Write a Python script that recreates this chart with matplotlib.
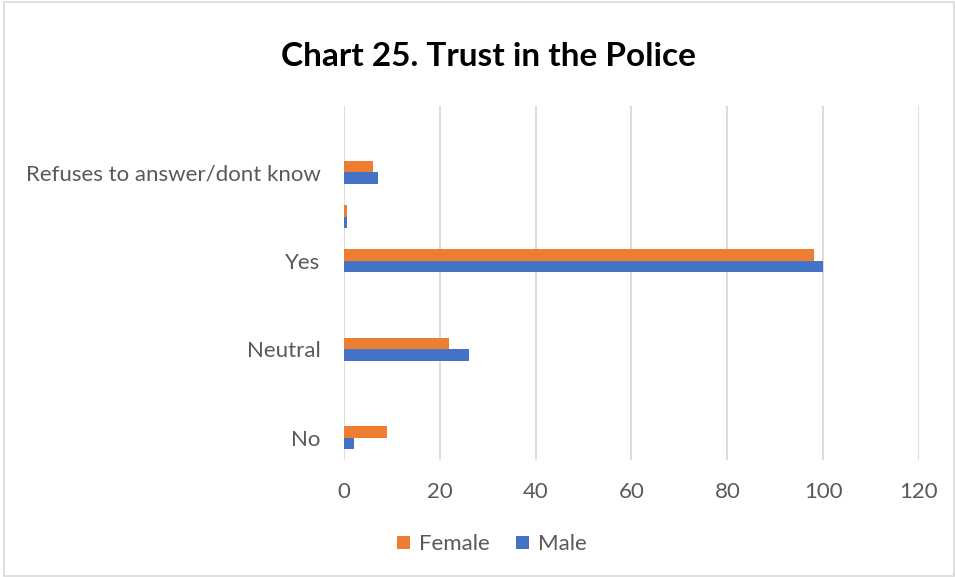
import matplotlib
matplotlib.use("Agg")
import matplotlib.pyplot as plt
import numpy as np
from matplotlib.patches import Rectangle

# Categories from bottom to top (blank rows are unlabeled categories)
categories = ["No", "", "Neutral", "", "Yes", "", "Refuses to answer/dont know", ""]
female = [9, 0, 22, 0, 98, 0.7, 6, 0]
male = [2, 0, 26, 0, 100, 0.7, 7, 0]
x_ticks = [0, 20, 40, 60, 80, 100, 120]

ORANGE = "#ED7D31"
BLUE = "#4472C4"
TEXT = "#595959"
GRID = "#D9D9D9"

plt.rcParams["font.family"] = ["Lato", "DejaVu Sans"]

fig = plt.figure(figsize=(9.55, 5.77), dpi=100)
ax = fig.add_axes([0.3602, 0.2028, 0.6021, 0.6135])

y = np.arange(len(categories))
h = 0.26
ax.barh(y + h / 2, female, height=h, color=ORANGE, label="Female", zorder=3)
ax.barh(y - h / 2, male, height=h, color=BLUE, label="Male", zorder=3)

ax.set_xlim(0, 120)
ax.set_ylim(-0.5, len(categories) - 0.5)
ax.set_xticks(x_ticks)
ax.set_xticklabels([str(v) for v in x_ticks], fontsize=16, color=TEXT)
ax.set_yticks(y)
ax.set_yticklabels(categories, fontsize=16, color=TEXT)
ax.tick_params(axis="both", length=0)
ax.tick_params(axis="x", pad=16)
ax.tick_params(axis="y", pad=17)

ax.grid(axis="x", color=GRID, linewidth=1.3, zorder=0)
ax.set_axisbelow(True)
for s in ax.spines.values():
    s.set_visible(False)

fig.text(0.511, 0.902, "Chart 25. Trust in the Police", ha="center", va="center",
         fontsize=24, fontweight="bold", color="black")

handles, labels = ax.get_legend_handles_labels()
leg = fig.legend(handles, labels, loc="center", bbox_to_anchor=(0.515, 0.057),
                 ncol=2, frameon=False, fontsize=16, handlelength=0.6,
                 handleheight=0.55, handletextpad=0.4, columnspacing=1.2)
for t in leg.get_texts():
    t.set_color(TEXT)

fig.patches.append(Rectangle((0.004, 0.001), 0.995, 0.995, transform=fig.transFigure,
                             fill=False, edgecolor=GRID, linewidth=1.2))

fig.savefig("out.png", dpi=100)
